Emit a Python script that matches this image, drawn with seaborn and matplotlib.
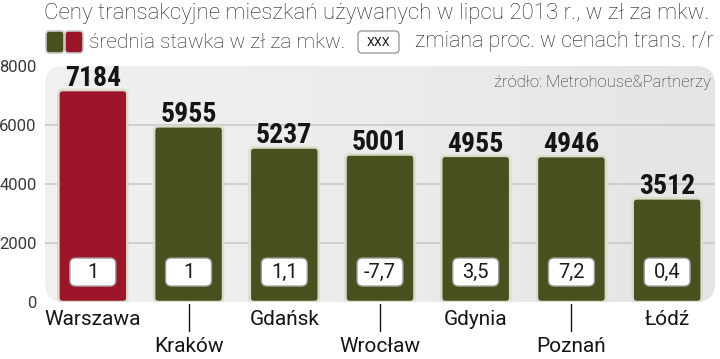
import numpy as np
import pandas as pd
import seaborn as sns
import matplotlib.pyplot as plt
import matplotlib.transforms as mtransforms
from matplotlib.patches import FancyBboxPatch
from matplotlib.colors import LinearSegmentedColormap
from matplotlib import font_manager
from matplotlib.font_manager import FontProperties

# ---- data ----
cities = ["Warszawa", "Kraków", "Gdańsk", "Wrocław", "Gdynia", "Poznań", "Łódź"]
prices = [7184, 5955, 5237, 5001, 4955, 4946, 3512]
changes = ["1", "1", "1,1", "-7,7", "3,5", "7,2", "0,4"]
yticks = [0, 2000, 4000, 6000, 8000]
title = "Ceny transakcyjne mieszkań używanych w lipcu 2013 r., w zł za mkw."
legend_avg = "średnia stawka w zł za mkw."
legend_chg = "zmiana proc. w cenach trans. r/r"
source = "źródło: Metrohouse&Partnerzy"

RED = "#9b1428"
OLIVE = "#48501e"
colors = [RED] + [OLIVE] * (len(cities) - 1)

sns.set_theme(style="white")
plt.rcParams['font.family'] = ['Roboto', 'DejaVu Sans']

# find a narrow bold face if one is installed
narrow_fp = None
cands = []
for f in font_manager.fontManager.ttflist:
    nm = f.name.lower()
    st = str(f.stretch).lower()
    w = f.weight if isinstance(f.weight, int) else {"bold": 700, "heavy": 800, "black": 900}.get(str(f.weight), 400)
    narrowish = ("cond" in nm or "narrow" in nm or "condensed" in st or st in ("semi-condensed",))
    if narrowish and w >= 600:
        cands.append((0 if "roboto" in nm else 1, -w if w <= 800 else -600, f.fname))
if cands:
    cands.sort()
    narrow_fp = FontProperties(fname=cands[0][2], size=20)
else:
    narrow_fp = FontProperties(family="Roboto", weight="bold", size=18)

W, H = 720, 359
fig = plt.figure(figsize=(W / 100, H / 100), dpi=100)
fig.patch.set_facecolor("white")
ax = fig.add_axes([45 / W, 1 - 302 / H, 670 / W, 236 / H])
ax.set_facecolor("none")

df = pd.DataFrame({"city": cities, "price": prices})
sns.barplot(data=df, x="city", y="price", hue="city", palette=colors,
            width=0.72, saturation=1, legend=False, ax=ax, zorder=3)
ax.set_xlim(-0.5, len(cities) - 0.5)
ax.set_ylim(0, 8000)

px_x = 670 / len(cities)
px_y = 236 / 8000
asp = px_x / px_y

# background panel
bg = FancyBboxPatch((0, 0), 1, 1, boxstyle="round,pad=0,rounding_size=0.028",
                    mutation_aspect=670 / 236, transform=ax.transAxes,
                    facecolor="none", edgecolor="none")
ax.add_patch(bg)
grad = np.vstack([np.linspace(0, 1, 256)] * 2)
cmap = LinearSegmentedColormap.from_list("g", ["#f1f1f1", "#ececec", "#e5e5e5"])
im = ax.imshow(grad, extent=[-0.5, len(cities) - 0.5, 0, 8000], aspect="auto",
               cmap=cmap, zorder=0, origin="lower")
im.set_clip_path(bg)

# grid / ticks
ax.set_yticks(yticks)
ax.yaxis.grid(True, color="#c9c9c9", lw=1.2)
ax.set_axisbelow(True)
gl = ax.get_ygridlines()
gl[0].set_visible(False)
gl[-1].set_visible(False)
for s in ax.spines.values():
    s.set_visible(False)
ax.tick_params(axis="y", length=0, pad=6, labelsize=12, labelcolor="#3a3a3a")
ax.set_yticklabels([str(t) for t in yticks])
ax.set_xticks([])
ax.set_xlabel("")
ax.set_ylabel("")

# rounded bars
for p in list(ax.patches):
    if p is bg:
        continue
    x, y, w, h = p.get_x(), p.get_y(), p.get_width(), p.get_height()
    fc = p.get_facecolor()
    p.set_visible(False)
    nb = FancyBboxPatch((x, y), w, h, boxstyle="round,pad=0,rounding_size=0.045",
                        mutation_aspect=asp, facecolor=fc, edgecolor="#dcdccc",
                        lw=1.8, zorder=3)
    ax.add_patch(nb)

# value labels and change boxes
for i, (v, c) in enumerate(zip(prices, changes)):
    ax.annotate(f"{v}", (i, v), xytext=(0, 3), textcoords="offset points",
                ha="center", va="baseline", fontproperties=narrow_fp,
                color="#151515", zorder=5)
    box = FancyBboxPatch((i - 0.24, 540), 0.48, 950,
                         boxstyle="round,pad=0,rounding_size=0.06",
                         mutation_aspect=asp, facecolor="white",
                         edgecolor="#9c9c9c", lw=1.0, zorder=4)
    ax.add_patch(box)
    ax.text(i, 1000, c, ha="center", va="center", fontsize=14.5,
            color="#1a1a1a", zorder=5)

# category labels (alternating rows)
bt = mtransforms.blended_transform_factory(ax.transData, ax.transAxes)
for i, name in enumerate(cities):
    if i % 2 == 0:
        ax.text(i, -0.075, name, transform=bt, ha="center", va="center",
                fontsize=15, color="#151515", clip_on=False)
    else:
        ax.plot([i, i], [-0.01, -0.122], transform=bt, color="#151515",
                lw=1.0, clip_on=False)
        ax.text(i, -0.19, name, transform=bt, ha="center", va="center",
                fontsize=15, color="#151515", clip_on=False)

# header
T = fig.dpi_scale_trans
def px(x, y):
    return x / 100, (H - y) / 100

fig.text(*px(44, 14), title, transform=T, ha="left", va="center",
         fontsize=16, fontweight="light", color="#222222")

for x0, col in [(46, OLIVE), (65, RED)]:
    fig.patches.append(FancyBboxPatch(px(x0, 53), 18 / 100, 22 / 100,
                                      boxstyle="round,pad=0,rounding_size=0.035",
                                      transform=T, facecolor=col,
                                      edgecolor="#c8c8c8", lw=1.2))
fig.text(*px(89, 42), legend_avg, transform=T, ha="left", va="center",
         fontsize=15, fontweight="light", color="#222222")
fig.patches.append(FancyBboxPatch(px(358, 53), 41 / 100, 22 / 100,
                                  boxstyle="round,pad=0,rounding_size=0.04",
                                  transform=T, facecolor="white",
                                  edgecolor="#9c9c9c", lw=1.0))
fig.text(*px(378.5, 42), "XXX", transform=T, ha="center", va="center",
         fontsize=9, color="#1a1a1a")
fig.text(*px(415, 42), legend_chg, transform=T, ha="left", va="center",
         fontsize=15.5, fontweight="light", color="#222222")

fig.text(*px(711, 83), source, transform=T, ha="right", va="center",
         fontsize=12, fontweight="light", color="#2a2a2a")

fig.savefig("out.png", dpi=100)
